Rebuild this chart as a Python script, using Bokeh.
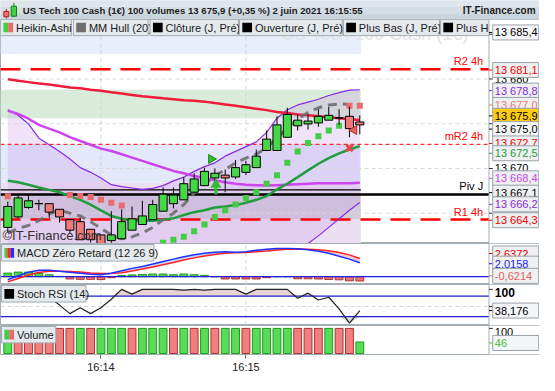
import numpy as np
from bokeh.plotting import figure
from bokeh.models import Range1d, FixedTicker
from bokeh.layouts import column
from bokeh.embed import file_html
from bokeh.resources import INLINE
from bokeh.core.properties import value

FONT = "Liberation Sans"

# ---------------- data ----------------
bars = [0, 1, 2, 3, 4, 5, 6, 7, 8, 9, 10, 11, 12, 13, 14, 15, 16, 17, 18, 19,
        20, 21, 22, 23, 24, 25, 26, 27, 28, 29, 30, 31, 32, 33, 34]
time_ticks = [9, 23]
time_labels = ["16:14", "16:15"]

ha_open = [13663.42, 13664.59, 13665.65, 13666.07, 13666.07, 13665.44, 13664.28, 13664.06, 13663.21, 13662.58,
           13661.94, 13662.15, 13663.11, 13663.74, 13664.28, 13665.23, 13666.07, 13666.50, 13667.35, 13668.09,
           13668.94, 13669.26, 13669.05, 13669.57, 13670.10, 13672.01, 13672.01, 13673.49, 13674.77, 13674.98,
           13675.09, 13675.40, 13675.62, 13675.83, 13675.20]
ha_close = [13665.76, 13666.71, 13666.39, 13666.07, 13665.12, 13664.59, 13663.11, 13662.04, 13662.04, 13661.62,
            13662.58, 13664.06, 13664.38, 13664.70, 13665.97, 13667.13, 13667.03, 13668.30, 13668.83, 13669.68,
            13669.47, 13668.94, 13670.10, 13670.42, 13671.38, 13673.28, 13674.87, 13676.04, 13675.40, 13675.30,
            13675.83, 13675.94, 13675.68, 13674.45, 13674.87]
ha_high = [13666.29, 13667.13, 13667.03, 13666.50, 13666.07, 13665.44, 13664.28, 13664.49, 13663.21, 13662.58,
           13665.23, 13665.44, 13665.76, 13666.39, 13666.50, 13667.88, 13667.88, 13669.04, 13669.47, 13670.10,
           13670.00, 13669.89, 13670.95, 13670.85, 13672.12, 13674.24, 13675.83, 13676.78, 13676.04, 13676.04,
           13676.62, 13676.89, 13676.62, 13676.89, 13675.94]
ha_low = [13662.89, 13664.40, 13665.50, 13665.33, 13664.49, 13663.96, 13662.68, 13662.04, 13661.73, 13661.30,
          13661.70, 13662.15, 13663.11, 13663.74, 13664.28, 13665.23, 13665.54, 13666.50, 13667.35, 13668.09,
          13667.98, 13667.35, 13668.83, 13669.26, 13670.10, 13672.01, 13672.01, 13673.49, 13674.24, 13674.34,
          13674.66, 13675.40, 13674.87, 13673.49, 13673.81]

hull = [13662.79, 13663.32, 13663.63, 13664.17, 13664.91, 13665.33, 13665.01, 13664.70, 13664.06, 13663.32,
        13662.57, 13662.15, 13662.36, 13662.79, 13663.42, 13664.27, 13665.01, 13665.97, 13667.24, 13668.19,
        13669.15, 13669.89, 13670.63, 13671.16, 13671.59, 13672.33, 13673.39, 13674.56, 13675.51, 13676.25,
        13676.78, 13677.10, 13677.21, 13677.16, 13677.10]
ma_red = [13679.96, 13679.81, 13679.65, 13679.49, 13679.38, 13679.22, 13679.06, 13678.96, 13678.80, 13678.69,
          13678.53, 13678.38, 13678.22, 13678.06, 13677.95, 13677.84, 13677.74, 13677.63, 13677.58, 13677.47,
          13677.31, 13677.16, 13677.00, 13676.84, 13676.68, 13676.52, 13676.31, 13676.20, 13676.04, 13675.94,
          13675.83, 13675.72, 13675.62, 13675.51, 13675.41]
ma_magenta = [13676.47, 13676.09, 13675.56, 13674.88, 13674.45, 13674.03, 13673.50, 13673.07, 13672.65, 13672.22,
              13671.96, 13671.59, 13671.22, 13670.85, 13670.47, 13670.10, 13669.73, 13669.47, 13669.15, 13668.94,
              13668.67, 13668.46, 13668.30, 13668.19, 13668.14, 13668.09, 13668.14, 13668.19, 13668.25, 13668.30,
              13668.35, 13668.35, 13668.35, 13668.35, 13668.40]
ma_green = [13668.62, 13668.46, 13668.19, 13667.88, 13667.61, 13667.35, 13666.92, 13666.50, 13665.97, 13665.33,
            13664.70, 13664.38, 13664.22, 13664.17, 13664.17, 13664.27, 13664.43, 13664.80, 13665.12, 13665.33,
            13665.65, 13665.75, 13665.91, 13666.18, 13666.50, 13666.92, 13667.66, 13668.30, 13669.04, 13669.79,
            13670.53, 13671.16, 13671.69, 13672.12, 13672.50]
bb_upper = [13676.57, 13675.94, 13674.98, 13673.39, 13672.65, 13671.91, 13671.06, 13670.10, 13669.57, 13668.94,
            13668.19, 13667.98, 13667.82, 13667.66, 13667.77, 13668.09, 13668.62, 13669.04, 13669.68, 13670.21,
            13670.63, 13671.38, 13671.91, 13672.44, 13672.97, 13674.03, 13675.62, 13676.57, 13677.10, 13677.42,
            13677.74, 13678.16, 13678.48, 13678.75, 13678.80]
bb_lower = [13659.8, 13659.9, 13660.1, 13660.2, 13660.3, 13660.4, 13660.4, 13660.5, 13660.5, 13660.6,
            13660.6, 13660.7, 13660.7, 13660.8, 13660.8, 13660.8, 13660.9, 13660.9, 13660.9, 13660.9,
            13661.0, 13661.0, 13661.0, 13661.0, 13661.0, 13661.0, 13661.0, 13661.0, 13661.09, 13661.62,
            13662.47, 13663.42, 13664.38, 13665.33, 13666.20]

sar_dn_bars = [0, 6, 7, 8, 9, 10, 11, 33, 34]
sar_dn_vals = [13666.90, 13667.03, 13666.92, 13666.82, 13666.50, 13666.18, 13665.86, 13677.0, 13677.0]
sar_up_bars = [14, 15, 16, 17, 18, 19, 20, 21, 22, 23, 24, 25, 26, 27, 28, 29, 30, 31, 32]
sar_up_vals = [13661.3, 13661.7, 13662.05, 13662.37, 13663.0, 13663.74, 13664.59, 13665.33, 13665.97, 13666.71,
               13667.35, 13668.30, 13669.25, 13670.63, 13671.91, 13672.86, 13673.60, 13674.24, 13674.77]

sig_buy_tri_x, sig_buy_tri_y = [19.65], [13671.06]
sig_buy_arrow_x, sig_buy_arrow_y = [20.1], [13668.2]
sig_sell_x_x, sig_sell_x_y = [33.0], [13672.3]
sig_sell_tri_x, sig_sell_tri_y = [33.45], [13674.3]

level_names = ["R2 4h", "mR2 4h", "Piv J", "R1 4h"]
level_vals = [13681.1, 13672.7, 13667.1, 13664.3]
prev_close = 13667.6
last_price = 13675.9

zone_bottom = [13682.8, 13675.6, 13668.4, 13667.1, 13664.3, 13660.0]
zone_top = [13684.9, 13678.8, 13672.7, 13668.4, 13667.1, 13664.3]
zone_color = ["#e8eefc", "#d9ebd9", "#e3e8fb", "#ecdff3", "#d2ccd9", "#ecdff3"]

main_ticks = [13665, 13670, 13675, 13680, 13685]
main_tick_labels = ["", "13 670", "", "13 680", ""]

# right-hand value tags: (text, position, colour, background)
main_tags = [("13 685,4", 13685.2, "#000000", "#f6f7f8"),
             ("13 681,1", 13681.0, "#ee0000", "#eef0f1"),
             ("13 678,8", 13678.7, "#8a2be2", "#eef0f1"),
             ("13 677,0", 13677.1, "#f07878", "#eef0f1"),
             ("13 675,9", 13675.88, "#000000", "#ffcc11"),
             ("13 675,0", 13674.4, "#000000", "#f8f8f8"),
             ("13 672,7", 13672.8, "#ee0000", "#eef0f1"),
             ("13 672,5", 13671.7, "#1e9e3c", "#eef0f1"),
             ("13 668,4", 13668.9, "#cc44ee", "#eef0f1"),
             ("13 667,1", 13667.3, "#000000", "#eef0f1"),
             ("13 666,2", 13666.0, "#8a2be2", "#eef0f1"),
             ("13 664,3", 13664.22, "#ee0000", "#eef0f1")]

macd_line = [-0.42, 0.14, 0.63, 0.92, 0.92, 0.78, 0.63, 0.49, 0.35, 0.28, 0.49, 0.85, 1.20, 1.48, 1.83, 2.19,
             2.54, 2.89, 3.17, 3.39, 3.53, 3.60, 3.53, 3.60, 3.81, 3.95, 4.09, 4.09, 4.02, 3.88, 3.67, 3.39,
             2.96, 2.54, 2.0158]
macd_signal = [-0.75, -0.25, 0.25, 0.60, 0.78, 0.80, 0.75, 0.66, 0.55, 0.45, 0.45, 0.58, 0.82, 1.10, 1.40, 1.72,
               2.05, 2.40, 2.72, 3.00, 3.22, 3.38, 3.45, 3.50, 3.60, 3.72, 3.85, 3.95, 4.00, 3.98, 3.90, 3.75,
               3.50, 3.15, 2.6372]
macd_hist = [0.52, 0.66, 0.66, 0.47, 0.28, 0.05, -0.33, -0.38, -0.38, -0.42, -0.14, 0.19, 0.25, 0.33, 0.38, 0.38,
             0.28, 0.38, 0.28, 0.19, 0.0, -0.33, -0.33, -0.33, -0.33, -0.14, 0.0, 0.0, -0.30, -0.30, -0.33, -0.40,
             -0.45, -0.60, -0.6214]
macd_tags = [("2,6372", 3.35, "#ee0000", "#eef0f1"),
             ("2,0158", 1.88, "#1a1aff", "#eef0f1"),
             ("-0,6214", 0.12, "#e06060", "#eef0f1")]

stoch = [90, 95, 92, 85, 77, 54, 29, 46, 29, 46, 71, 100, 86, 100, 100, 100, 100, 98, 100, 98, 100, 100, 100, 86,
         100, 100, 100, 100, 74, 89, 69, 77, 43, 1, 38.176]
stoch_ticks = [50, 100]
stoch_tick_labels = ["", "100"]
stoch_tags = [("38,176", 38.0, "#000000", "#f4f5f6")]

volume = [100, 100, 100, 100, 100, 100, 100, 100, 100, 100, 100, 100, 100, 100, 100, 100, 100, 100, 100, 100,
          100, 100, 100, 100, 100, 100, 100, 100, 100, 100, 100, 100, 100, 100, 46]
vol_dir = ["G", "R", "R", "R", "R", "R", "R", "G", "R", "G", "G", "G", "R", "G", "G", "G", "R", "G", "R", "G",
           "R", "G", "G", "R", "G", "G", "G", "G", "R", "R", "R", "G", "R", "R", "G"]
vol_ticks = [100]
vol_tick_labels = ["100"]
vol_tags = [("46", 42.0, "#3ec43e", "#f4f5f6")]

# ---------------- layout helpers ----------------
W = 539
H_HDR, H_MAIN, H_MACD, H_STOCH, H_VOL, H_XAX = 19, 224, 41, 41, 29, 21
X0 = -0.7035
PX_PER_BAR = 10.661


def mx(px):
    # reference pixel column -> bar units (chrome placement only)
    return X0 + px / PX_PER_BAR


X_END = mx(555)
AX = mx(503)
xr = Range1d(X0, X_END)


def my_main(py):
    return 13681.1 - (py - 73.3) / 9.43


def my_macd(py):
    return (291.0 - py) / 7.09


def my_st(py):
    return 100.0 - (py - 304.0) / 0.35


def my_vol(py):
    return (370.0 - py) / 0.26


def panel(height, y0, y1, bottom=0):
    p = figure(width=W, height=height, x_range=xr, y_range=Range1d(y0, y1),
               output_backend="svg", toolbar_location=None, title=None,
               x_axis_location="below" if bottom else None, y_axis_location=None,
               min_border_left=0, min_border_right=0, min_border_top=0, min_border_bottom=bottom)
    p.xgrid.visible = False
    p.ygrid.visible = False
    p.outline_line_color = "#a3adb5"
    p.background_fill_color = "white"
    p.border_fill_color = "white"
    return p


def axis_area(p, y0, y1, ticks, labels, tags, bold=False, size="11px", shift=0):
    p.quad(left=[AX], right=[X_END], top=[y1], bottom=[y0], fill_color="white", line_color=None)
    p.segment(x0=[AX], x1=[AX], y0=[y0], y1=[y1], line_color="#a3adb5", line_width=1)
    if ticks:
        p.segment(x0=AX, x1=mx(507), y0=ticks, y1=ticks, line_color="#333333", line_width=1)
        p.text(x=[mx(509)] * len(ticks), y=ticks, text=labels, text_font=value(FONT), text_font_size=size,
               text_font_style="bold" if bold else "normal", text_color="#000000",
               text_baseline="middle", text_align="left", y_offset=shift)
    for text, yv, col, bg in tags:
        p.segment(x0=[AX], x1=[mx(508)], y0=[yv], y1=[yv], line_color=col, line_width=1)
        p.rect(x=[mx(530.5)], y=[yv], width=46, height=15, width_units="screen", height_units="screen",
               fill_color=bg, line_color="#98a2aa", line_width=1)
        p.text(x=[mx(509)], y=[yv], text=[text], text_font=value(FONT), text_font_size="11px",
               text_color=col, text_baseline="middle", text_align="left")


def legend_box(p, conv, x0, x1, y0, y1, text, swatches):
    p.quad(left=[mx(x0)], right=[mx(x1)], top=[conv(y0)], bottom=[conv(y1)],
           fill_color="#e3e9ed", line_color="#a0aab2", line_width=1)
    ym = (y0 + y1) / 2.0
    for sx0, sx1, col in swatches:
        p.quad(left=[mx(sx0)], right=[mx(sx1)], top=[conv(ym - 5)], bottom=[conv(ym + 5)],
               fill_color=col, line_color=None)
    p.text(x=[mx(x0 + 16)], y=[conv(ym)], text=[text], text_font=value(FONT), text_font_size="11px",
           text_color="#1a1a1a", text_baseline="middle", text_align="left")


def vlines(p, y0, y1):
    p.segment(x0=time_ticks, x1=time_ticks, y0=y0, y1=y1, line_color="#d4d4d4", line_dash="4 3", line_width=1)


# ---------------- header ----------------
hdr = figure(width=W, height=H_HDR, x_range=Range1d(0, 555), y_range=Range1d(20, 0),
             output_backend="svg", toolbar_location=None, title=None,
             x_axis_location=None, y_axis_location=None, min_border=0)
hdr.xgrid.visible = False
hdr.ygrid.visible = False
hdr.outline_line_color = None
hdr.background_fill_color = "#d3dde3"
hdr.border_fill_color = "#d3dde3"
hdr.quad(left=[0, 0, 0], right=[555, 555, 555], top=[0, 7, 14], bottom=[7, 14, 20.5],
         fill_color=["#dfe7ec", "#d4dee4", "#c9d5dc"], line_color=None)
hdr.segment(x0=[6, 13.8], x1=[6, 13.8], y0=[9, 2.5], y1=[19, 17.5], line_color=["#a02020", "#108010"])
hdr.quad(left=[3.5, 11], right=[8.5, 16.5], top=[11.5, 6], bottom=[17, 16.5],
         fill_color=["#f07070", "#40d040"], line_color=["#b02020", "#108010"])
hdr.text(x=[23], y=[10.5], text=["US Tech 100 Cash (1\u20ac) 100 volumes 13 675,9 (+0,35 %) 2 juin 2021 16:15:55"],
         text_font=value(FONT), text_font_size="9.6px", text_font_style="bold", text_color="#1c1c1c",
         text_baseline="middle")
hdr.text(x=[551], y=[10.5], text=["IT-Finance.com"], text_font=value(FONT), text_font_size="10px",
         text_font_style="bold", text_color="#1c1c1c", text_baseline="middle", text_align="right")

# ---------------- main panel ----------------
MY0, MY1 = my_main(257), my_main(21)
main = panel(H_MAIN, MY0, MY1)

last = bars[-1]
main.quad(left=X0, right=last + 0.1, top=zone_top, bottom=zone_bottom, fill_color=zone_color, line_color=None)
main.varea(x=bars, y1=bb_lower, y2=bb_upper, fill_color="#c89ae8", fill_alpha=0.28)
main.text(x=[mx(482)], y=[my_main(47)], text=["US Tech 100 Cash (1\u20ac)"], text_font=value(FONT),
          text_font_size="18px", text_color="#e3e3e3", text_align="right", text_baseline="bottom")
main.segment(x0=X0, x1=AX, y0=main_ticks, y1=main_ticks, line_color="#d8d8d8", line_dash="4 3")
vlines(main, MY0, MY1)

# level lines
main.segment(x0=X0, x1=AX, y0=[level_vals[0], level_vals[3]], y1=[level_vals[0], level_vals[3]],
             line_color="#ff0000", line_width=2.5, line_dash="20 10")
main.segment(x0=X0, x1=AX, y0=level_vals[1], y1=level_vals[1], line_color="#ff0000", line_width=1, line_dash="4 3")
main.segment(x0=X0, x1=AX, y0=level_vals[2], y1=level_vals[2], line_color="#000000", line_width=2.5)
main.segment(x0=X0, x1=last + 0.1, y0=prev_close, y1=prev_close, line_color="#000000", line_width=1.2)

# indicators
main.line(bars, bb_upper, line_color="#8a2be2", line_width=1.2)
main.line(bars, bb_lower, line_color="#8a2be2", line_width=1.2)
main.line(bars, ma_magenta, line_color="#cc44ee", line_width=2.5)
main.line(bars, ma_green, line_color="#1e9e3c", line_width=2.5)
main.line(bars, ma_red, line_color="#ee1c3c", line_width=2.5)
main.line(bars, hull, line_color="#6e6e6e", line_width=3, line_dash="9 6", line_alpha=0.9)

main.scatter(sar_dn_bars, sar_dn_vals, marker="square", size=6, fill_color="#e86a6a", line_color=None)
main.scatter(sar_up_bars, sar_up_vals, marker="square", size=6, fill_color="#44cc44", line_color=None)

# Heikin-Ashi candles
o = np.array(ha_open)
c = np.array(ha_close)
body_col = ["#45d845" if cc > oo else ("#f07a7a" if cc < oo else "#000000") for oo, cc in zip(ha_open, ha_close)]
main.segment(x0=bars, x1=bars, y0=ha_low, y1=ha_high, line_color="#000000", line_width=1)
main.vbar(x=bars, width=0.78, top=np.maximum(o, c), bottom=np.minimum(o, c), fill_color=body_col,
          line_color="#000000", line_width=1)

# signals
main.scatter(sig_buy_tri_x, sig_buy_tri_y, marker="triangle", angle=-np.pi / 2, size=9,
             fill_color="#33bb33", line_color="#1a8a1a")
main.vbar(x=sig_buy_arrow_x, width=0.3, top=sig_buy_arrow_y, bottom=level_vals[2], fill_color="#33bb33",
          line_color=None)
main.scatter(sig_buy_arrow_x, sig_buy_arrow_y, marker="triangle", size=11, fill_color="#33bb33", line_color=None)
main.scatter(sig_sell_x_x, sig_sell_x_y, marker="x", size=9, line_color="#e84848", line_width=3)
main.scatter(sig_sell_tri_x, sig_sell_tri_y, marker="triangle", angle=np.pi / 2, size=9,
             fill_color="#e86060", line_color="#b03030")

# level labels
level_col = ["#ff0000", "#ff0000", "#000000", "#ff0000"]
main.text(x=[mx(497)] * 4, y=level_vals, text=level_names, text_font=value(FONT), text_font_size="11px",
          text_color=level_col, text_align="right", text_baseline="bottom", y_offset=-2)

main.text(x=[mx(2)], y=[MY0], text=["\u00a9IT-Finance.com"], text_font=value(FONT),
          text_font_size="13px", text_color="#333333", text_align="left", text_baseline="bottom", y_offset=-1)

# legend row
legend_box(main, my_main, 0, 73, 21, 38, "Heikin-Ashi", [(3, 8, "#44cc44"), (8, 13, "#e86a6a")])
legend_box(main, my_main, 75, 152, 21, 38, "MM Hull (20)", [(78, 88, "#6e6e6e")])
legend_box(main, my_main, 154, 245, 21, 38, "Cl\u00f4ture (J, Pr\u00e9)", [(157, 167, "#000000")])
legend_box(main, my_main, 246, 352, 21, 38, "Ouverture (J, Pr\u00e9)", [(249, 259, "#000000")])
legend_box(main, my_main, 353, 452, 21, 38, "Plus Bas (J, Pr\u00e9)", [(356, 366, "#000000")])
legend_box(main, my_main, 453, 560, 21, 38, "Plus Haut (J, Pr\u00e9)", [(456, 466, "#000000")])

axis_area(main, MY0, MY1, main_ticks, main_tick_labels, main_tags)

# ---------------- MACD ----------------
CY0, CY1 = my_macd(299), my_macd(257)
macd = panel(H_MACD, CY0, CY1)
vlines(macd, CY0, CY1)
ml = np.array(macd_line)
sg = np.array(macd_signal)
macd.varea(x=bars, y1=sg, y2=np.maximum(ml, sg), fill_color="#c4ccf6", fill_alpha=0.9)
macd.varea(x=bars, y1=ml, y2=np.maximum(ml, sg), fill_color="#f4c4cf", fill_alpha=0.9)
hist_fill = ["#55d655" if h >= 0 else "#ec7676" for h in macd_hist]
hist_line = ["#1f951f" if h >= 0 else "#b03030" for h in macd_hist]
macd.vbar(x=bars, width=0.76, top=macd_hist, bottom=0, fill_color=hist_fill, line_color=hist_line)
macd.segment(x0=X0, x1=AX, y0=0, y1=0, line_color="#2020dd", line_width=1.2)
macd.line(bars, macd_signal, line_color="#ff2020", line_width=1.5)
macd.line(bars, macd_line, line_color="#2030ff", line_width=1.5)
legend_box(macd, my_macd, 1, 158, 258, 275, "MACD Z\u00e9ro Retard (12 26 9)",
           [(4, 7, "#44cc44"), (7, 10.5, "#ff2020"), (10.5, 14, "#2030ff")])
axis_area(macd, CY0, CY1, [], [], macd_tags)

# ---------------- Stoch RSI ----------------
SY0, SY1 = my_st(341), my_st(299)
st = panel(H_STOCH, SY0, SY1)
vlines(st, SY0, SY1)
st.segment(x0=X0, x1=AX, y0=50, y1=50, line_color="#d8d8d8", line_dash="4 3")
sv = np.array(stoch, dtype=float)
st.varea(x=bars, y1=80, y2=np.maximum(sv, 80), fill_color="#e8d2d2")
st.varea(x=bars, y1=np.minimum(sv, 20), y2=20, fill_color="#d6e2d6")
st.segment(x0=X0, x1=AX, y0=[80, 20], y1=[80, 20], line_color="#2020cc", line_width=1.2)
st.line(bars, stoch, line_color="#222222", line_width=1.2)
legend_box(st, my_st, 1, 88, 300, 317, "Stoch RSI (14)", [(4, 14, "#000000")])
axis_area(st, SY0, SY1, stoch_ticks, stoch_tick_labels, stoch_tags, bold=True, size="12px", shift=3)

# ---------------- Volume ----------------
VY0, VY1 = my_vol(371), my_vol(341)
vol = panel(H_VOL + H_XAX, VY0, VY1, bottom=H_XAX)
vx = vol.xaxis[0]
vx.ticker = FixedTicker(ticks=time_ticks)
vx.major_label_overrides = dict(zip(time_ticks, time_labels))
vx.major_label_text_font = FONT
vx.major_label_text_font_size = "11px"
vx.major_label_text_color = "#222222"
vx.axis_line_color = None
vx.major_tick_line_color = "#666666"
vx.major_tick_in = 0
vx.major_tick_out = 4
vx.minor_tick_line_color = None
vx.major_label_standoff = 2
vlines(vol, VY0, VY1)
vfill = ["#58dc58" if d == "G" else "#f08080" for d in vol_dir]
vline = ["#1f9a1f" if d == "G" else "#b03030" for d in vol_dir]
vol.vbar(x=bars, width=0.76, top=volume, bottom=0, fill_color=vfill, line_color=vline)
legend_box(vol, my_vol, 1, 57, 342, 359, "Volume", [(4, 9, "#44cc44"), (9, 14, "#e86a6a")])
axis_area(vol, VY0, VY1, vol_ticks, vol_tick_labels, vol_tags, shift=4)

layout = column(hdr, main, macd, st, vol, spacing=0)
open("out.html", "w").write(file_html(layout, INLINE))
